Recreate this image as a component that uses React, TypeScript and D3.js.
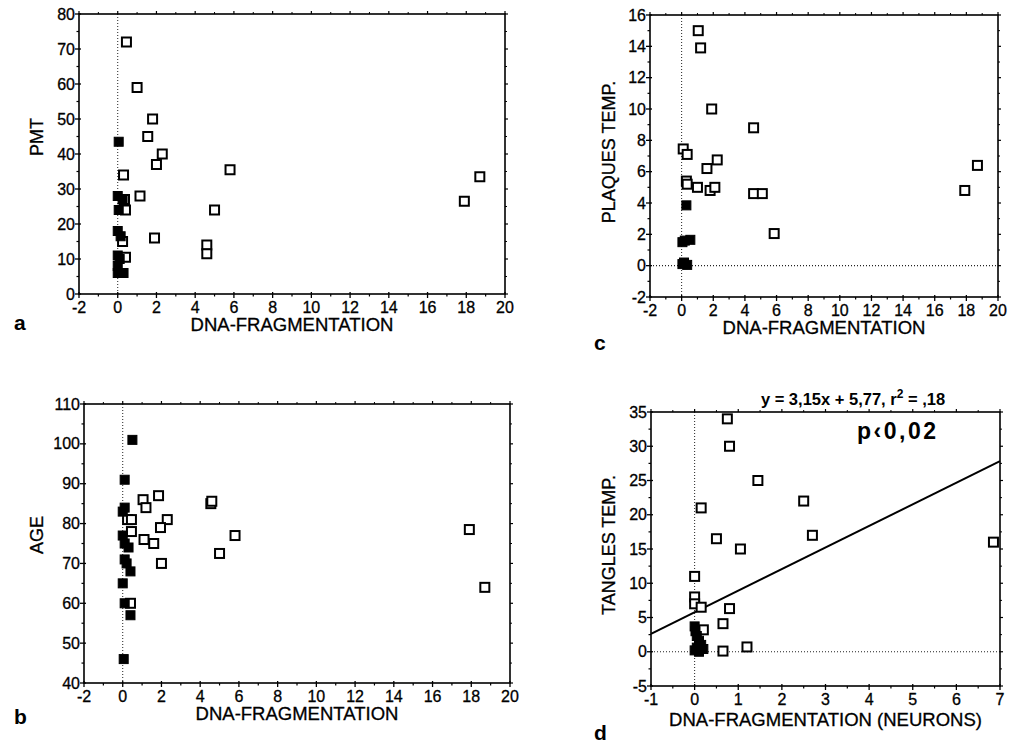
import React from 'react';
import * as d3 from 'd3';

type Pt = [number, number];

// a: PMT vs DNA fragmentation
const pmtOpen: Pt[] = [
  [0.45, 72], [1.0, 59], [1.8, 50], [1.55, 45], [2.3, 40], [2.0, 37], [0.3, 34],
  [1.15, 28], [5.8, 35.5], [5.0, 24], [1.9, 16], [4.6, 14], [4.6, 11.5],
  [17.9, 26.5], [18.7, 33.5], [0.4, 24], [0.25, 15], [0.4, 10.5], [0.35, 27],
];
const pmtFilled: Pt[] = [
  [0.05, 43.5], [0.0, 28], [0.25, 27], [0.05, 24], [0.0, 18], [0.15, 16.5],
  [0.0, 11], [0.1, 10], [0.0, 8], [0.0, 6], [0.3, 6],
];

// b: age vs DNA fragmentation
const ageOpen: Pt[] = [
  [1.05, 86], [1.2, 84], [1.85, 87], [2.3, 81], [1.95, 79], [1.1, 76], [1.6, 75],
  [2.0, 70], [0.25, 81], [0.45, 81], [0.45, 78], [0.4, 60], [4.55, 85], [4.6, 85.6],
  [5.0, 72.5], [5.8, 77], [17.9, 78.5], [18.7, 64],
];
const ageFilled: Pt[] = [
  [0.5, 101], [0.1, 91], [0.1, 84], [0.0, 83], [0.0, 77], [0.1, 75], [0.3, 74],
  [0.1, 71], [0.2, 70], [0.4, 68], [0.0, 65], [0.1, 60], [0.4, 57], [0.05, 46],
];

// c: plaques vs DNA fragmentation
const plaqueOpen: Pt[] = [
  [1.05, 15], [1.2, 13.9], [1.9, 10], [4.55, 8.8], [0.1, 7.45], [0.35, 7.1],
  [2.25, 6.75], [1.6, 6.2], [0.3, 5.4], [0.35, 5.2], [1.0, 5.0], [1.8, 4.8],
  [2.1, 5.0], [4.55, 4.6], [5.1, 4.6], [5.85, 2.05], [17.9, 4.8], [18.7, 6.4],
];
const plaqueFilled: Pt[] = [
  [0.3, 3.85], [0.05, 1.5], [0.2, 1.6], [0.55, 1.65], [0.05, 0.1], [0.15, 0.2], [0.35, 0.05],
];

// d: tangles vs DNA fragmentation in neurons
const tangleOpen: Pt[] = [
  [0.75, 34], [0.8, 30], [1.45, 25], [2.5, 22], [0.15, 21], [0.5, 16.5], [1.05, 15],
  [2.7, 17], [6.85, 16], [0.0, 11], [0.0, 8], [0.0, 7], [0.15, 6.5], [0.8, 6.3],
  [0.65, 4.1], [0.2, 3.2], [1.2, 0.7], [0.65, 0.1],
];
const tangleFilled: Pt[] = [
  [0.0, 3.7], [0.02, 3.0], [0.05, 2.3], [0.1, 1.6], [0.15, 1.0], [0.0, 0.2],
  [0.1, 0.0], [0.2, 0.4], [0.05, 0.6],
];
const fitSlope = 3.15;
const fitIntercept = 5.77;

const fragTicks = d3.range(-2, 21, 2);
const pmtTicks = d3.range(0, 81, 10);
const ageTicks = d3.range(40, 111, 10);
const plaqueTicks = d3.range(-2, 17, 2);
const neuronTicks = d3.range(-1, 8, 1);
const tangleTicks = d3.range(-5, 36, 5);

const FONT = '"Liberation Sans", Arial, Helvetica, sans-serif';

interface Box { left: number; right: number; top: number; bottom: number }

interface PanelProps {
  box: Box;
  xTicks: number[];
  yTicks: number[];
  open: Pt[];
  filled: Pt[];
  xTitle: string;
  yTitle: string;
  yTitleX: number;
  yTitleY: number;
  letter: string;
  letterX: number;
  letterY: number;
  titleDy?: number;
  zeroLine?: boolean;
  fit?: boolean;
}

function midpoints(t: number[]) {
  return t.slice(1).map((v, i) => (v + t[i]) / 2);
}

// scanned print looks heavier than plain regular text
const ink = { stroke: '#000', strokeWidth: 0.3 };

function Panel(p: PanelProps) {
  const { box } = p;
  const x = d3.scaleLinear().domain(d3.extent(p.xTicks) as [number, number]).range([box.left, box.right]);
  const y = d3.scaleLinear().domain(d3.extent(p.yTicks) as [number, number]).range([box.bottom, box.top]);
  const xMinor = midpoints(p.xTicks);
  const yMinor = midpoints(p.yTicks);
  const s = 9;
  const cx = (box.left + box.right) / 2;

  const fitLine = d3.line<number>()
    .x(d => x(d))
    .y(d => y(fitSlope * d + fitIntercept));

  return (
    <g>
      {/* zero reference lines */}
      <line x1={x(0)} x2={x(0)} y1={box.top} y2={box.bottom} stroke="#222" strokeWidth={1} strokeDasharray="1,2" />
      {p.zeroLine && (
        <line x1={box.left} x2={box.right} y1={y(0)} y2={y(0)} stroke="#222" strokeWidth={1.2} strokeDasharray="1,2" />
      )}
      {p.fit && (
        <path d={fitLine(x.domain()) || ''} fill="none" stroke="#000" strokeWidth={2} />
      )}

      {/* frame */}
      <rect x={box.left} y={box.top} width={box.right - box.left} height={box.bottom - box.top}
        fill="none" stroke="#000" strokeWidth={1.6} />

      {p.xTicks.map(t => (
        <g key={'xt' + t}>
          <line x1={x(t)} x2={x(t)} y1={box.bottom - 2} y2={box.bottom + 4} stroke="#000" strokeWidth={1.3} />
          <line x1={x(t)} x2={x(t)} y1={box.top} y2={box.top - 3} stroke="#000" strokeWidth={1.2} />
          <text x={x(t)} y={box.bottom + 19} textAnchor="middle" fontSize={16} fontFamily={FONT} {...ink}>{t}</text>
        </g>
      ))}
      {xMinor.map(t => (
        <g key={'xm' + t}>
          <line x1={x(t)} x2={x(t)} y1={box.bottom} y2={box.bottom + 2.5} stroke="#000" strokeWidth={1.2} />
          <line x1={x(t)} x2={x(t)} y1={box.top} y2={box.top - 2} stroke="#000" strokeWidth={1} />
        </g>
      ))}
      {p.yTicks.map(t => (
        <g key={'yt' + t}>
          <line x1={box.left - 4} x2={box.left + 2} y1={y(t)} y2={y(t)} stroke="#000" strokeWidth={1.3} />
          <line x1={box.right} x2={box.right + 3} y1={y(t)} y2={y(t)} stroke="#000" strokeWidth={1.2} />
          <text x={box.left - 4} y={y(t) + 5.5} textAnchor="end" fontSize={16} fontFamily={FONT} {...ink}>{t}</text>
        </g>
      ))}
      {yMinor.map(t => (
        <g key={'ym' + t}>
          <line x1={box.left - 2.5} x2={box.left} y1={y(t)} y2={y(t)} stroke="#000" strokeWidth={1.2} />
          <line x1={box.right} x2={box.right + 2} y1={y(t)} y2={y(t)} stroke="#000" strokeWidth={1} />
        </g>
      ))}

      {p.open.map((d, i) => (
        <rect key={'o' + i} x={x(d[0]) - s / 2} y={y(d[1]) - s / 2} width={s} height={s}
          fill="#fff" stroke="#000" strokeWidth={2} />
      ))}
      {p.filled.map((d, i) => (
        <rect key={'f' + i} x={x(d[0]) - s / 2} y={y(d[1]) - s / 2} width={s} height={s}
          fill="#000" stroke="#000" strokeWidth={1} />
      ))}

      <text x={cx} y={box.bottom + (p.titleDy ?? 37)} textAnchor="middle" fontSize={18.5} fontFamily={FONT} {...ink}>{p.xTitle}</text>
      <text transform={`translate(${p.yTitleX},${p.yTitleY}) rotate(-90)`} textAnchor="middle" fontSize={18} fontFamily={FONT} {...ink}>{p.yTitle}</text>
      <text x={p.letterX} y={p.letterY} fontSize={21} fontWeight="bold" fontFamily={FONT}>{p.letter}</text>
    </g>
  );
}

export default function App() {
  return (
    <div style={{ position: 'absolute', left: 0, top: 0 }}>
      <svg width={1020} height={746} style={{ display: 'block', background: '#fff' }}>
        <Panel box={{ left: 79, right: 505, top: 14, bottom: 294 }} xTicks={fragTicks} yTicks={pmtTicks}
          open={pmtOpen} filled={pmtFilled} xTitle="DNA-FRAGMENTATION" yTitle="PMT" yTitleX={43} yTitleY={137}
          letter="a" letterX={14} letterY={330} />
        <Panel box={{ left: 84, right: 510, top: 404, bottom: 683 }} xTicks={fragTicks} yTicks={ageTicks}
          open={ageOpen} filled={ageFilled} xTitle="DNA-FRAGMENTATION" yTitle="AGE" yTitleX={43} yTitleY={535}
          letter="b" letterX={14} letterY={724} />
        <Panel box={{ left: 650, right: 998, top: 15, bottom: 297 }} xTicks={fragTicks} yTicks={plaqueTicks}
          open={plaqueOpen} filled={plaqueFilled} xTitle="DNA-FRAGMENTATION" yTitle="PLAQUES TEMP." yTitleX={615} yTitleY={152}
          letter="c" letterX={594} letterY={350} zeroLine />
        <Panel box={{ left: 651, right: 1000, top: 412, bottom: 686 }} xTicks={neuronTicks} yTicks={tangleTicks}
          open={tangleOpen} filled={tangleFilled} xTitle="DNA-FRAGMENTATION (NEURONS)" yTitle="TANGLES TEMP." yTitleX={615} yTitleY={545}
          letter="d" letterX={594} letterY={740} titleDy={40} zeroLine fit />
        <text x={853} y={405} textAnchor="middle" fontSize={16.5} fontWeight="bold" fontFamily={FONT}>
          y = 3,15x + 5,77, r<tspan dy={-7} fontSize={12}>2</tspan><tspan dy={7}> = ,18</tspan>
        </text>
        <text x={857} y={439} fontSize={23} fontWeight="bold" letterSpacing={2.5} fontFamily={FONT}>p‹0,02</text>
      </svg>
    </div>
  );
}
